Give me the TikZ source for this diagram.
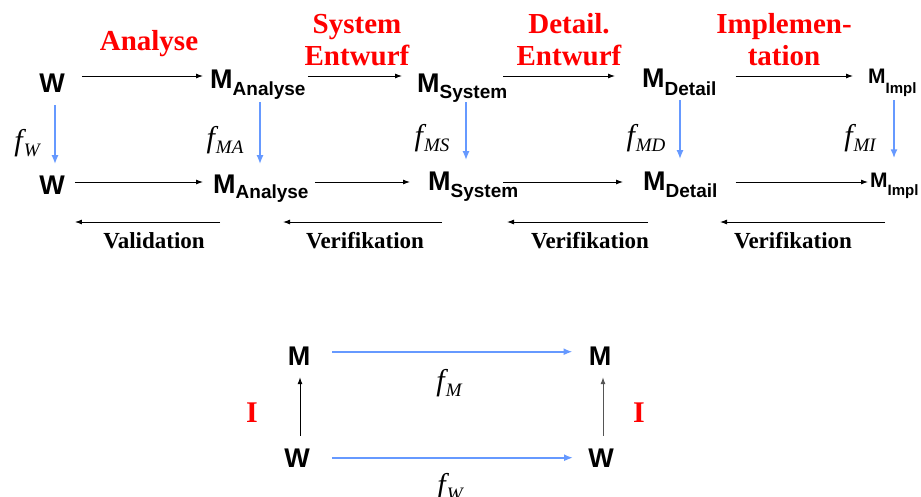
\documentclass[tikz,border=0pt]{standalone}
\usepackage{fontspec}
\setmainfont{Liberation Serif}
\newfontfamily\sansfam{Liberation Sans}
\usetikzlibrary{arrows.meta}
\definecolor{lblue}{RGB}{102,153,255}
\definecolor{lred}{RGB}{255,0,0}
\definecolor{dgray}{RGB}{85,85,85}
\newcommand{\MX}[4]{{\fontsize{#1}{#1}\selectfont M}\raisebox{-#3pt}{\fontsize{#2}{#2}\selectfont #4}}
\newcommand{\fsub}[1]{f\kern1pt\raisebox{-6pt}{\fontsize{19}{19}\selectfont #1}}
\tikzset{
  big/.style={font=\sansfam\bfseries\fontsize{27}{27}\selectfont, inner sep=0pt},
  phase/.style={font=\bfseries\fontsize{29}{32}\selectfont, text=lred, align=center, inner sep=0pt, anchor=base},
  flab/.style={font=\fontsize{30}{30}\selectfont\itshape, inner sep=0pt, anchor=base},
  ver/.style={font=\bfseries\fontsize{23}{23}\selectfont, inner sep=0pt, anchor=base},
  ilab/.style={font=\bfseries\fontsize{30}{30}\selectfont, text=lred, inner sep=0pt, anchor=base},
  arr/.style={-{Latex[length=7pt,width=5pt]}, line width=0.9pt},
  barr/.style={-{Latex[length=9pt,width=7pt]}, line width=1.8pt, draw=lblue},
}
\begin{document}
\begin{tikzpicture}[x=1pt,y=-1pt]
\useasboundingbox (0,0) rectangle (921,496);
\coordinate (r1) at (0,76);
\coordinate (r2) at (0,182);
\coordinate (r3) at (0,222);
% top row
\node[big, anchor=base] (W1) at (52,92) {W};
\node[big, anchor=base west] (MA1) at (210,88) {\MX{27}{19}{7}{Analyse}};
\node[big, anchor=base west] (MS1) at (417,92) {\MX{27}{19}{6}{System}};
\node[big, anchor=base west] (MD1) at (642,87) {\MX{27}{19}{8}{Detail}};
\node[big, anchor=base west] (MI1) at (868,83) {\MX{21}{15}{10}{Impl}};
% bottom row
\node[big, anchor=base] (W2) at (52,194) {W};
\node[big, anchor=base west] (MA2) at (213,193) {\MX{27}{19}{5}{Analyse}};
\node[big, anchor=base west] (MS2) at (428,190) {\MX{27}{19}{7}{System}};
\node[big, anchor=base west] (MD2) at (643,190) {\MX{27}{19}{7}{Detail}};
\node[big, anchor=base west] (MI2) at (870,187) {\MX{21}{15}{8}{Impl}};
% phase labels (base = last line)
\node[phase] (pA) at (149,50) {Analyse};
\node[phase] (pS) at (357,65) {System\\Entwurf};
\node[phase] (pD) at (569,65) {Detail.\\Entwurf};
\node[phase] (pI) at (784,65) {Implemen-\\tation};
% top arrows
\draw[arr] ([xshift=17pt]W1.east |- r1) -- ([xshift=-7pt]MA1.west |- r1);
\draw[arr] ([xshift=2pt]MA1.east |- r1) -- ([xshift=-15pt]MS1.west |- r1);
\draw[arr] ([xshift=-4pt]MS1.east |- r1) -- ([xshift=-27pt]MD1.west |- r1);
\draw[arr] ([xshift=19pt]MD1.east |- r1) -- ([xshift=-15pt]MI1.west |- r1);
% bottom arrows
\draw[arr] ([xshift=10pt]W2.east |- r2) -- ([xshift=-10pt]MA2.west |- r2);
\draw[arr] ([xshift=6pt]MA2.east |- r2) -- ([xshift=-18pt]MS2.west |- r2);
\draw[arr] ([xshift=-15pt]MS2.east |- r2) -- ([xshift=-20pt]MD2.west |- r2);
\draw[arr] ([xshift=18pt]MD2.east |- r2) -- ([xshift=-2pt]MI2.west |- r2);
% vertical blue arrows
\draw[barr] ([xshift=3pt,yshift=-13pt]W1.south) -- ([xshift=3pt,yshift=11pt]W2.north);
\draw[barr] ([xshift=50pt,yshift=-3pt]MA1.south west) -- ([xshift=47pt,yshift=10pt]MA2.north west);
\draw[barr] ([xshift=49pt,yshift=0pt]MS1.south west) -- ([xshift=38pt,yshift=11pt]MS2.north west);
\draw[barr] ([xshift=38pt,yshift=-5pt]MD1.south west) -- ([xshift=37pt,yshift=12pt]MD2.north west);
\draw[barr] ([xshift=26pt,yshift=-4pt]MI1.south west) -- ([xshift=24pt,yshift=14pt]MI2.north west);
% f labels
\node[flab] (fW) at (27,150) {\fsub{W}};
\node[flab] (fMA) at (225,147) {\fsub{MA}};
\node[flab] (fMS) at (432,145) {\fsub{MS}};
\node[flab] (fMD) at (646,145) {\fsub{MD}};
\node[flab] (fMI) at (860,145) {\fsub{MI}};
% left arrows
\draw[arr] ([xshift=7pt]MA2.west |- r3) -- ([xshift=10pt]W2.east |- r3);
\draw[arr] ([xshift=14pt]MS2.west |- r3) -- ([xshift=70pt]MA2.west |- r3);
\draw[arr] ([xshift=5pt]MD2.west |- r3) -- ([xshift=79pt]MS2.west |- r3);
\draw[arr] ([xshift=15pt]MI2.west |- r3) -- ([xshift=77pt]MD2.west |- r3);
\node[ver] (v1) at (154,248) {Validation};
\node[ver] (v2) at (365,248) {Verifikation};
\node[ver] (v3) at (590,248) {Verifikation};
\node[ver] (v4) at (793,248) {Verifikation};
% bottom diagram
\node[big, anchor=base] (Mb1) at (299,365) {M};
\node[big, anchor=base] (Mb2) at (600,365) {M};
\node[big, anchor=base] (Wb1) at (297,467) {W};
\node[big, anchor=base] (Wb2) at (601,467) {W};
\draw[barr] ([xshift=22pt,yshift=4pt]Mb1.east) -- ([xshift=-16pt,yshift=4pt]Mb2.west);
\draw[barr] ([xshift=22pt]Wb1.east) -- ([xshift=-15pt]Wb2.west);
\draw[arr] ([xshift=3pt,yshift=12.7pt]Wb1.north) -- ([xshift=1pt,yshift=-12pt]Mb1.south);
\draw[arr, draw=dgray] ([xshift=2pt,yshift=12.7pt]Wb2.north) -- ([xshift=3pt,yshift=-12pt]Mb2.south);
\node[flab] (fM) at (449,390) {\fsub{M}};
\node[flab] (fWb) at (450,494) {\fsub{W}};
\node[ilab] (I1) at (252,422) {I};
\node[ilab] (I2) at (639,422) {I};
\end{tikzpicture}
\end{document}
